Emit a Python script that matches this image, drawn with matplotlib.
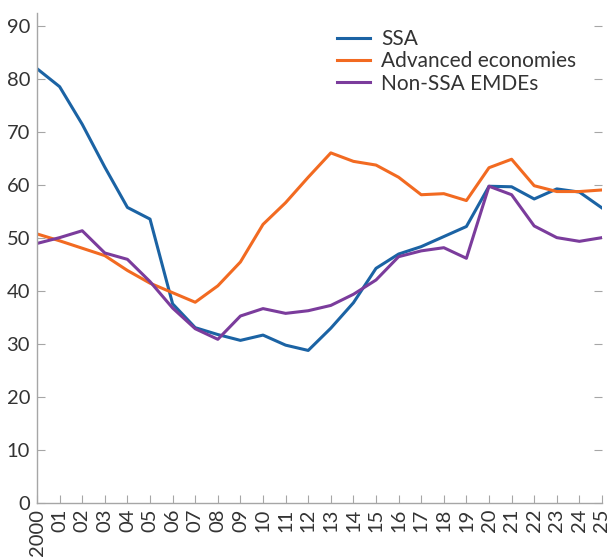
import matplotlib
matplotlib.use("Agg")
import matplotlib.pyplot as plt

plt.rcParams['font.family'] = ['Lato', 'DejaVu Sans']

years = list(range(2000, 2026))
year_labels = ['2000'] + ['%02d' % (y - 2000) for y in years[1:]]

ssa = [82.0, 78.6, 71.5, 63.4, 55.8, 53.6, 37.6, 33.1, 31.8, 30.7, 31.7, 29.8, 28.8,
       33.0, 37.8, 44.3, 47.0, 48.4, 50.3, 52.2, 59.8, 59.7, 57.4, 59.3, 58.7, 55.7]
adv = [50.8, 49.5, 48.1, 46.7, 43.9, 41.5, 39.7, 37.9, 41.0, 45.5, 52.6, 56.7, 61.5,
       66.1, 64.5, 63.8, 61.5, 58.2, 58.4, 57.1, 63.3, 64.9, 59.9, 58.8, 58.8, 59.1]
non_ssa = [49.0, 50.1, 51.4, 47.2, 46.0, 41.8, 36.8, 32.9, 30.9, 35.3, 36.7, 35.8, 36.3,
           37.3, 39.4, 42.1, 46.5, 47.6, 48.2, 46.2, 59.8, 58.2, 52.3, 50.1, 49.4, 50.1]

fig = plt.figure(figsize=(6.09, 5.58), dpi=100)
ax = fig.add_axes([0.0608, 0.0986, 0.9277, 0.878])

ax.plot(years, ssa, color='#1b63a4', lw=2.2, label='SSA')
ax.plot(years, adv, color='#f26a21', lw=2.2, label='Advanced economies')
ax.plot(years, non_ssa, color='#7b3c9c', lw=2.2, label='Non-SSA EMDEs')

ax.set_xlim(2000, 2025)
ax.set_ylim(0, 92.5)
ax.set_yticks(range(0, 91, 10))
ax.set_xticks(years)
ax.set_xticklabels(year_labels, rotation=90)

for s in ['top', 'right']:
    ax.spines[s].set_visible(False)
for s in ['left', 'bottom']:
    ax.spines[s].set_color('#a6a6a6')
    ax.spines[s].set_linewidth(1.0)

ax.tick_params(axis='both', direction='in', length=6, color='#a6a6a6',
               labelsize=14.5, labelcolor='#333333')
ax.tick_params(axis='y', right=True, pad=5)
ax.tick_params(axis='x', pad=4)

ax.legend(loc='upper right', bbox_to_anchor=(0.987, 1.005), frameon=False, fontsize=15,
          handlelength=1.6, handletextpad=0.5, labelspacing=0.1, labelcolor='#333333')

fig.savefig('out.png', dpi=100)
